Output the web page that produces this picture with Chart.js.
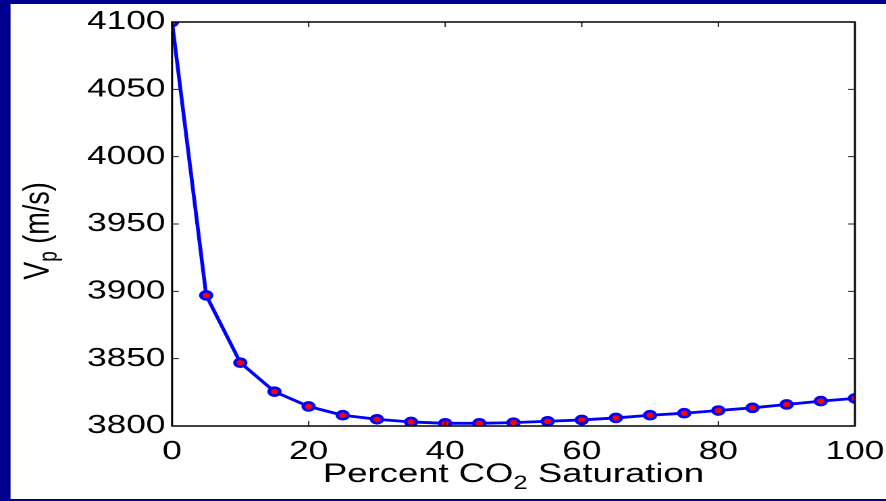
<!DOCTYPE html>
<html>
<head>
<meta charset="utf-8">
<script src="https://cdn.jsdelivr.net/npm/chart.js@4.4.1/dist/chart.umd.min.js"></script>
<style>
  html, body { margin: 0; padding: 0; overflow: hidden; background: #00008f; }
  #wrap { width: 656px; height: 501px; transform: scaleX(1.3506); transform-origin: 0 0; }
</style>
</head>
<body>
<div id="wrap"><canvas id="vp"></canvas></div>
<script>
'use strict';

// CO2 saturation (%) and P-wave velocity (m/s)
var saturation = [0, 5, 10, 15, 20, 25, 30, 35, 40, 45, 50, 55, 60, 65, 70, 75, 80, 85, 90, 95, 100];
var vp = [4100, 3897, 3847, 3825.5, 3814.5, 3808, 3805, 3803, 3802, 3802, 3802.5,
          3803.5, 3804.5, 3806, 3808, 3809.5, 3811.5, 3813.5, 3816, 3818.5, 3820.5];
var xTicks = [0, 20, 40, 60, 80, 100];
var yTicks = [3800, 3850, 3900, 3950, 4000, 4050, 4100];

var FONT = '"Liberation Sans", Arial, sans-serif';

var points = [];
for (var i = 0; i < saturation.length; i++) {
    points.push({ x: saturation[i], y: vp[i] });
}

// navy frame + white panel, box + inward ticks, axis titles with subscripts
var matlabLook = {
    id: 'matlabLook',
    beforeDraw: function (chart) {
        var ctx = chart.ctx;
        ctx.save();
        ctx.fillStyle = '#00008f';
        ctx.fillRect(0, 0, chart.width, chart.height);
        ctx.fillStyle = '#ffffff';
        ctx.fillRect(7.8, 4, chart.width - 7.8, chart.height - 6);
        ctx.restore();
    },
    afterDatasetsDraw: function (chart) {
        var ctx = chart.ctx;
        var a = chart.chartArea;
        var xs = chart.scales.x, ys = chart.scales.y;
        ctx.save();
        ctx.strokeStyle = '#222';
        ctx.lineWidth = 1;
        ctx.beginPath();
        xTicks.forEach(function (t) {
            var px = xs.getPixelForValue(t);
            ctx.moveTo(px, a.bottom); ctx.lineTo(px, a.bottom - 5);
            ctx.moveTo(px, a.top); ctx.lineTo(px, a.top + 5);
        });
        yTicks.forEach(function (t) {
            var py = ys.getPixelForValue(t);
            ctx.moveTo(a.left, py); ctx.lineTo(a.left + 5, py);
            ctx.moveTo(a.right, py); ctx.lineTo(a.right - 5, py);
        });
        ctx.stroke();
        ctx.strokeStyle = '#000';
        ctx.lineWidth = 1.5;
        ctx.strokeRect(a.left, a.top, a.right - a.left, a.bottom - a.top);
        ctx.restore();
    },
    afterDraw: function (chart) {
        var ctx = chart.ctx;
        var a = chart.chartArea;
        ctx.save();
        ctx.fillStyle = '#000';
        ctx.textBaseline = 'alphabetic';
        // x title
        var big = '27px ' + FONT, small = '19px ' + FONT;
        var p1 = 'Percent CO', p2 = '2', p3 = ' Saturation';
        ctx.font = big; var w1 = ctx.measureText(p1).width, w3 = ctx.measureText(p3).width;
        ctx.font = small; var w2 = ctx.measureText(p2).width;
        var cx = (a.left + a.right) / 2;
        var x0 = cx - (w1 + w2 + w3) / 2;
        var base = 482;
        ctx.font = big; ctx.fillText(p1, x0, base);
        ctx.font = small; ctx.fillText(p2, x0 + w1, base + 7);
        ctx.font = big; ctx.fillText(p3, x0 + w1 + w2, base);
        // y title
        var q1 = 'V', q2 = 'p', q3 = ' (m/s)';
        ctx.font = big; var v1 = ctx.measureText(q1).width, v3 = ctx.measureText(q3).width;
        ctx.font = small; var v2 = ctx.measureText(q2).width;
        ctx.translate(36, 231);
        ctx.rotate(-Math.PI / 2);
        var y0 = -(v1 + v2 + v3) / 2;
        ctx.font = big; ctx.fillText(q1, y0, 0);
        ctx.font = small; ctx.fillText(q2, y0 + v1, 6);
        ctx.font = big; ctx.fillText(q3, y0 + v1 + v2, 0);
        ctx.restore();
    }
};

var chart_vp = new Chart(document.getElementById('vp'), {
    type: 'line',
    data: {
        datasets: [{
            label: 'Vp',
            data: points,
            borderColor: '#0000ff',
            borderWidth: 2.8,
            pointRadius: 4,
            pointBorderWidth: 2.6,
            pointBackgroundColor: '#ff0000',
            pointBorderColor: '#0000ff',
            tension: 0
        }]
    },
    options: {
        responsive: true,
        maintainAspectRatio: false,
        devicePixelRatio: 2,
        animation: false,
        layout: { padding: { left: 0, top: 22, right: 23, bottom: 0 } },
        plugins: { legend: { display: false }, tooltip: { enabled: false } },
        scales: {
            x: {
                type: 'linear',
                min: 0, max: 100,
                afterBuildTicks: function (s) { s.ticks = xTicks.map(function (v) { return { value: v }; }); },
                afterFit: function (s) { s.height = 75; s.paddingLeft = 0; s.paddingRight = 0; },
                grid: { drawOnChartArea: false, drawTicks: false },
                border: { display: false },
                ticks: {
                    color: '#000', padding: 10, maxRotation: 0,
                    font: { family: FONT, size: 26 },
                    callback: function (v) { return String(v); }
                }
            },
            y: {
                type: 'linear',
                min: 3800, max: 4100,
                afterBuildTicks: function (s) { s.ticks = yTicks.map(function (v) { return { value: v }; }); },
                afterFit: function (s) { s.width = 127.4; s.paddingTop = 0; s.paddingBottom = 0; },
                grid: { drawOnChartArea: false, drawTicks: false },
                border: { display: false },
                ticks: {
                    color: '#000', padding: 5,
                    font: { family: FONT, size: 26 },
                    callback: function (v) { return String(v); }
                }
            }
        }
    },
    plugins: [matlabLook]
});
</script>
</body>
</html>
